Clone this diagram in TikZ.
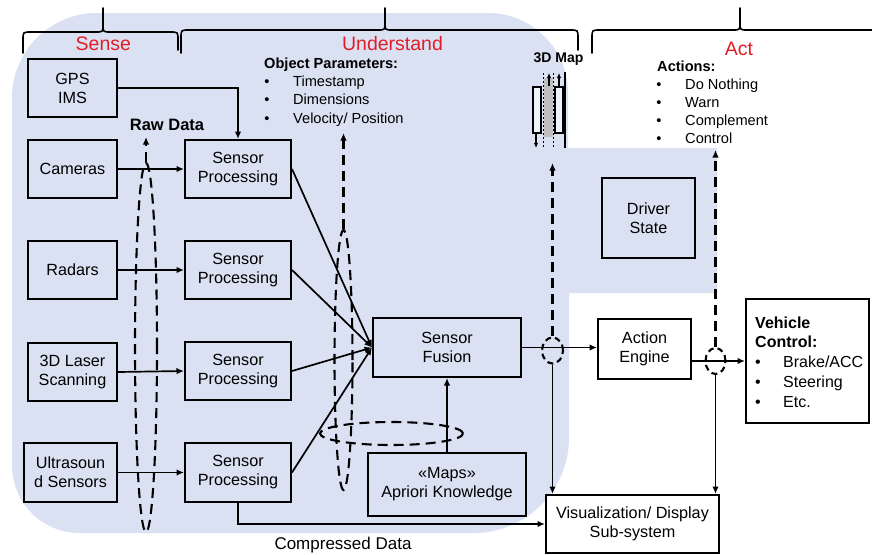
\documentclass[tikz,border=0pt]{standalone}
\usepackage{fontspec}
\setmainfont{Liberation Sans}
\usetikzlibrary{arrows.meta,shapes.geometric}
\definecolor{bgblue}{RGB}{218,225,242}
\definecolor{phasered}{RGB}{225,30,40}
\definecolor{mapgray}{RGB}{192,192,192}
\newcommand\boxfont{\fontsize{16.2}{19}\selectfont}
\newcommand\phasefont{\fontsize{19.5}{22}\selectfont}
\newcommand\headfont{\fontsize{14.6}{17}\selectfont\bfseries}
\newcommand\itemfont{\fontsize{14.6}{17}\selectfont}
\newcommand\vcfont{\fontsize{16}{19}\selectfont}
% curly brace over a phase: left end, stem, right end, height of the bar
\newcommand\phasebrace[4]{%
  \draw[bracepen] (#1,53) -- (#1,#4+8) .. controls (#1,#4) .. (#1+8,#4)
    -- (#2-7,#4) .. controls (#2,#4) .. (#2,#4-8) -- (#2,8);
  \draw[bracepen] (#3,50) -- (#3,#4+8) .. controls (#3,#4) .. (#3-8,#4)
    -- (#2+7,#4) .. controls (#2,#4) .. (#2,#4-8);
}
\begin{document}
\begin{tikzpicture}[x=1pt,y=-1pt,
  box/.style={draw, line width=2pt, align=center, inner sep=0pt, font=\boxfont},
  link/.style={line width=1.7pt, -{Latex[length=7.5pt,width=6.5pt]}},
  dlink/.style={line width=2.2pt, dash pattern=on 10pt off 6pt, -{Latex[length=7.5pt,width=6.5pt]}},
  loopring/.style={draw, ellipse, inner sep=0pt, line width=2.1pt, dash pattern=on 10pt off 6pt},
  bracepen/.style={line width=1.6pt, line cap=round, line join=round},
  phase/.style={text=phasered, font=\phasefont, anchor=base, inner sep=0pt},
  head/.style={font=\headfont, anchor=base west, inner sep=0pt},
  item/.style={font=\itemfont, anchor=base west, inner sep=0pt},
  dot/.style={font=\itemfont, anchor=base, inner sep=0pt},
  mappen/.style={line width=1.5pt},
  mapdots/.style={line width=0.9pt, dash pattern=on 2pt off 2pt},
  maparrow/.style={line width=1.1pt, -{Latex[length=5pt,width=4.5pt]}},
]
\useasboundingbox (0,0) rectangle (872,554);

% shaded sense/understand region
\fill[bgblue] (12,465) -- (12,98) .. controls (12,51) and (50,13) .. (97,13)
  -- (488,13) .. controls (532,13) and (568,49) .. (568,93)
  -- (568,148) -- (717,148) -- (717,293) -- (569,293)
  -- (569,438) .. controls (569,490) and (526,533) .. (474,533)
  -- (80,533) .. controls (42,533) and (12,503) .. (12,465) -- cycle;

% phase braces and titles
\phasebrace{23}{103}{178}{32}
\phasebrace{181}{385}{578}{30}
\draw[bracepen] (592,53) -- (592,38) .. controls (592,30) .. (600,30)
  -- (733,30) .. controls (740,30) .. (740,22) -- (740,8);
\draw[bracepen] (740,22) .. controls (740,30) .. (747,30) -- (872,30);
\node[phase] (sense) at (103.3,50) {Sense};
\node[phase] (understand) at (392.5,50) {Understand};
\node[phase] (act) at (739,55) {Act};

% sensors
\node[box, minimum width=89pt, minimum height=58pt] (gps) at (72.5,88) {GPS\\IMS};
\node[box, minimum width=89pt, minimum height=58pt] (cam) at (72.5,169) {Cameras};
\node[box, minimum width=89pt, minimum height=58pt] (rad) at (72.5,270) {Radars};
\node[box, minimum width=89pt, minimum height=58pt] (las) at (72.5,372) {3D Laser\\Scanning};
\node[box, minimum width=93pt, minimum height=59pt] (ult) at (70.5,472.5) {Ultrasoun\\d Sensors};

% sensor processing
\node[box, minimum width=106pt, minimum height=58pt] (sp1) at (238,169) {Sensor\\Processing};
\node[box, minimum width=106pt, minimum height=58pt] (sp2) at (238,270) {Sensor\\Processing};
\node[box, minimum width=106pt, minimum height=58pt] (sp3) at (238,371) {Sensor\\Processing};
\node[box, minimum width=106pt, minimum height=59pt] (sp4) at (238,472.5) {Sensor\\Processing};

% fusion, maps, outputs
\node[box, minimum width=148pt, minimum height=59pt] (fus) at (447,347.5) {Sensor\\Fusion};
\node[box, minimum width=158pt, minimum height=63pt] (maps) at (447,484.5) {«Maps»\\Apriori Knowledge};
\node[box, fill=white, minimum width=173pt, minimum height=58pt] (vis) at (632.5,524) {Visualization/ Display\\Sub-system};
\node[box, minimum width=93pt, minimum height=60pt] (eng) at (644.5,349) {Action\\Engine};
\node[box, minimum width=93pt, minimum height=80pt] (drv) at (648.5,218) {Driver\\State};
\node[box, fill=white, minimum width=123pt, minimum height=124pt] (veh) at (807.5,361) {};

% dashed data groupings
\node[loopring, minimum width=22pt, minimum height=369pt] (rawloop) at (146,347.5) {};
\node[loopring, minimum width=18pt, minimum height=260pt] (objloop) at (343.5,360) {};
\node[loopring, minimum width=143pt, minimum height=23pt] (maploop) at (391.5,433.5) {};
\node[loopring, minimum width=21pt, minimum height=26pt, dash pattern=on 6pt off 4pt] (fusloop) at (552.5,350.5) {};
\node[loopring, minimum width=20pt, minimum height=26pt, dash pattern=on 6pt off 4pt] (engloop) at (715.5,361) {};

\coordinate (rawtip) at (146,137);
\coordinate (objtip) at (343.5,133);
\coordinate (maptip) at (552.5,163);
\coordinate (drvtip) at (715.5,150);

% sensor links
\draw[link] (gps.east) -- (gps.east -| sp1.north) -- (sp1.north);
\draw[link] (cam.east) -- (sp1.west);
\draw[link] (rad.east) -- (sp2.west);
\draw[link] (las.east) -- (sp3.west);
\draw[link] (ult.east) -- (sp4.west);

% processing to fusion
\draw[link] (sp1.east) -- (fus.west);
\draw[link] (sp2.east) -- (fus.west);
\draw[link] (sp3.east) -- (fus.west);
\draw[link] (sp4.east) -- (fus.west);
\draw[link] (maps.north) -- (fus.south);

% compressed data to display
\draw[link] (sp4.south) -- (sp4.south |- vis.west) -- (vis.west);

% fusion to action and display
\draw[link] (fus.east) -- (fus.east -| eng.west);
\draw[link] (fusloop.south) -- (fusloop.south |- vis.north);
\draw[link] (eng.east |- engloop) -- (veh.west |- engloop);
\draw[link] (engloop.south) -- (engloop.south |- vis.north);

% dashed feedback arrows
\draw[dlink] (rawloop.north) -- (rawtip);
\draw[dlink] (objloop.north) -- (objtip);
\draw[dlink] (fusloop.north) -- (maptip);
\draw[dlink] (engloop.north) -- (drvtip);

% 3D map strip
\fill[mapgray] (544,78) rectangle (553,137);
\draw[mappen, fill=white!55!bgblue] (533,87) rectangle (541,133);
\draw[mappen, fill=white!55!bgblue] (555,87) rectangle (563,133);
\draw[mapdots] (543.5,73) -- (543.5,148);
\draw[mapdots] (553,73) -- (553,148);
\draw[line width=1.3pt] (565,72) -- (565,148);
\draw[maparrow] (549,86) -- (549,73);
\draw[maparrow] (559,87) -- (559,73);
\draw[maparrow] (536,133) -- (536,148);
\node[font=\fontsize{14}{16}\selectfont\bfseries, anchor=base, inner sep=0pt] (maplabel) at (558.5,62) {3D Map};

% labels
\node[font=\fontsize{16.5}{19}\selectfont\bfseries, anchor=base, inner sep=0pt] (rawlabel) at (167,130) {Raw Data};
\node[font=\fontsize{17}{20}\selectfont, anchor=base, inner sep=0pt] (complabel) at (343,549) {Compressed Data};

\node[head] (objhead) at (264,68) {Object Parameters:};
\node[dot] (ob1) at (267,86) {•};
\node[dot] (ob2) at (267,104) {•};
\node[dot] (ob3) at (267,123) {•};
\node[item] (ot1) at (293,86) {Timestamp};
\node[item] (ot2) at (293,104) {Dimensions};
\node[item] (ot3) at (293,123) {Velocity/ Position};

\node[head] (acthead) at (657,71) {Actions:};
\node[dot] (ab1) at (659,89) {•};
\node[dot] (ab2) at (659,107) {•};
\node[dot] (ab3) at (659,125) {•};
\node[dot] (ab4) at (659,143) {•};
\node[item] (at1) at (685,89) {Do Nothing};
\node[item] (at2) at (685,107) {Warn};
\node[item] (at3) at (685,125) {Complement};
\node[item] (at4) at (685,143) {Control};

\node[font=\vcfont\bfseries, anchor=base west, inner sep=0pt] (vh1) at (755,328) {Vehicle};
\node[font=\vcfont\bfseries, anchor=base west, inner sep=0pt] (vh2) at (755,347) {Control:};
\node[font=\vcfont, anchor=base, inner sep=0pt] (vb1) at (758,367) {•};
\node[font=\vcfont, anchor=base, inner sep=0pt] (vb2) at (758,387) {•};
\node[font=\vcfont, anchor=base, inner sep=0pt] (vb3) at (758,407) {•};
\node[font=\vcfont, anchor=base west, inner sep=0pt] (vt1) at (783,367) {Brake/ACC};
\node[font=\vcfont, anchor=base west, inner sep=0pt] (vt2) at (783,387) {Steering};
\node[font=\vcfont, anchor=base west, inner sep=0pt] (vt3) at (783,407) {Etc.};
\end{tikzpicture}
\end{document}
